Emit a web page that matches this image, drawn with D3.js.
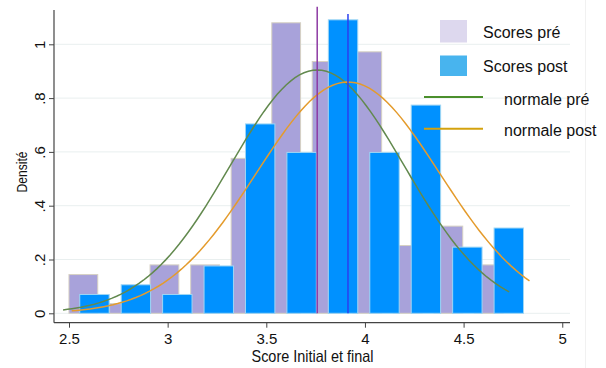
<!DOCTYPE html>
<html>
<head>
<meta charset="utf-8">
<script src="https://cdn.jsdelivr.net/npm/d3@7"></script>
<style>
  body { margin: 0; background: #fff; }
  svg { display: block; font-family: "Liberation Sans", Arial, sans-serif; }
</style>
</head>
<body>
<div id="chart"></div>
<script>
// histogram bins (lower edges) and densities
var preEdges = [2.470, 2.676, 2.881, 3.087, 3.292, 3.498, 3.703, 3.909, 4.114, 4.320, 4.525];
var preWidth = 0.2055;
var preDensity = [0.144, 0.036, 0.180, 0.180, 0.576, 1.080, 0.936, 0.972, 0.252, 0.324, 0.180];

var postEdges = [2.524, 2.734, 2.944, 3.154, 3.364, 3.574, 3.784, 3.994, 4.204, 4.414, 4.624];
var postWidth = 0.210;
var postDensity = [0.070, 0.106, 0.070, 0.176, 0.704, 0.598, 1.091, 0.598, 0.774, 0.246, 0.317];

// fitted normals: mean, sd, range of the data
var preNormal = { mean: 3.758, sd: 0.441, min: 2.470, max: 4.731 };
var postNormal = { mean: 3.914, sd: 0.464, min: 2.514, max: 4.834 };

// vertical mean lines (x, top in density units)
var meanLines = [
  { x: 3.758, top: 1.14, color: '#8d3aa3' },
  { x: 3.914, top: 1.113, color: '#2a3ff0' }
];

var xTicks = [2.5, 3, 3.5, 4, 4.5, 5];
var xTickLabels = ['2.5', '3', '3.5', '4', '4.5', '5'];
var yTicks = [0, 0.2, 0.4, 0.6, 0.8, 1];
var yTickLabels = ['0', '.2', '.4', '.6', '.8', '1'];

var legendItems = ['Scores pré', 'Scores post', 'normale pré', 'normale post'];

var W = 606, H = 368;
var svg = d3.select('#chart').append('svg').attr('width', W).attr('height', H);

var x = d3.scaleLinear().domain([2.5, 5]).range([69, 562.25]);
var y = d3.scaleLinear().domain([0, 1]).range([313.3, 44.3]);

var axisX = 54, axisY = 322.7;
var gapFrac = 0.71;

// faint outer border on the right
svg.append('line').attr('x1', 585.5).attr('x2', 585.5).attr('y1', 0).attr('y2', H)
  .attr('stroke', '#f1f1f1').attr('stroke-width', 1);

// gridlines
svg.append('g').selectAll('line').data(yTicks).enter().append('line')
  .attr('x1', axisX + 1).attr('x2', 570)
  .attr('y1', function(d) { return y(d); }).attr('y2', function(d) { return y(d); })
  .attr('stroke', '#e9efef').attr('stroke-width', 1);

function drawBars(edges, width, dens, fill, stroke) {
  svg.append('g').selectAll('rect').data(dens).enter().append('rect')
    .attr('x', function(d, i) { return x(edges[i] + width * (1 - gapFrac) / 2); })
    .attr('width', function(d, i) { return x(edges[i] + width * gapFrac) - x(edges[i]); })
    .attr('y', function(d) { return y(d); })
    .attr('height', function(d) { return y(0) - y(d); })
    .attr('fill', fill).attr('stroke', stroke).attr('stroke-width', 1);
}
drawBars(preEdges, preWidth, preDensity, '#a8a2da', '#d6d1c3');
drawBars(postEdges, postWidth, postDensity, '#0091ff', '#9fd6f4');

function normalPath(p) {
  var pts = d3.range(0, 101).map(function(k) {
    var v = p.min + (p.max - p.min) * k / 100;
    var z = (v - p.mean) / p.sd;
    return [v, Math.exp(-0.5 * z * z) / (p.sd * Math.sqrt(2 * Math.PI))];
  });
  return d3.line().x(function(d) { return x(d[0]); }).y(function(d) { return y(d[1]); })(pts);
}
svg.append('path').attr('d', normalPath(preNormal)).attr('fill', 'none')
  .attr('stroke', '#62894e').attr('stroke-width', 1.5);
svg.append('path').attr('d', normalPath(postNormal)).attr('fill', 'none')
  .attr('stroke', '#e49b2c').attr('stroke-width', 1.5);

svg.append('g').selectAll('line').data(meanLines).enter().append('line')
  .attr('x1', function(d) { return x(d.x); }).attr('x2', function(d) { return x(d.x); })
  .attr('y1', function(d) { return y(d.top); }).attr('y2', y(0))
  .attr('stroke', function(d) { return d.color; }).attr('stroke-width', 1.5);

// axes
svg.append('line').attr('x1', axisX).attr('x2', 570).attr('y1', axisY).attr('y2', axisY)
  .attr('stroke', '#444').attr('stroke-width', 1.2);
svg.append('line').attr('x1', axisX).attr('x2', axisX).attr('y1', 10).attr('y2', axisY)
  .attr('stroke', '#444').attr('stroke-width', 1.2);

var xAxis = d3.axisBottom(x).tickValues(xTicks).tickSize(5).tickPadding(3)
  .tickFormat(function(d, i) { return xTickLabels[i]; });
var gx = svg.append('g').attr('transform', 'translate(0,' + axisY + ')').call(xAxis);
gx.select('.domain').remove();
gx.selectAll('line').attr('stroke', '#444');
gx.selectAll('text').attr('font-size', 15).attr('fill', '#111').attr('font-family', null)
  .attr('y', 21.6).attr('dy', null);

var yAxis = d3.axisLeft(y).tickValues(yTicks).tickSize(5)
  .tickFormat(function(d, i) { return yTickLabels[i]; });
var gy = svg.append('g').attr('transform', 'translate(' + axisX + ',0)').call(yAxis);
gy.select('.domain').remove();
gy.selectAll('line').attr('stroke', '#444');
gy.selectAll('text').attr('font-size', 15).attr('fill', '#111').attr('font-family', null)
  .attr('transform', 'rotate(-90)').attr('x', 0).attr('y', -9).attr('dy', null)
  .attr('text-anchor', 'middle');

// axis titles
svg.append('text').attr('x', 312.5).attr('y', 362.3).attr('text-anchor', 'middle')
  .attr('font-size', 16.5).attr('fill', '#111')
  .attr('textLength', 122).attr('lengthAdjust', 'spacingAndGlyphs')
  .text('Score Initial et final');
svg.append('text').attr('transform', 'translate(26.5,172) rotate(-90)').attr('text-anchor', 'middle')
  .attr('font-size', 14.5).attr('fill', '#111')
  .attr('textLength', 41).attr('lengthAdjust', 'spacingAndGlyphs')
  .text('Densité');

// legend
var lg = svg.append('g').attr('font-size', 16).attr('fill', '#111');
lg.append('rect').attr('x', 440).attr('y', 20).attr('width', 27).attr('height', 22.5).attr('fill', '#ddd8ee');
lg.append('rect').attr('x', 440).attr('y', 55.5).attr('width', 27).attr('height', 20.5).attr('fill', '#48b4ee');
lg.append('line').attr('x1', 424).attr('x2', 483).attr('y1', 97).attr('y2', 97)
  .attr('stroke', '#4b8f2c').attr('stroke-width', 2);
lg.append('line').attr('x1', 424).attr('x2', 483).attr('y1', 128.7).attr('y2', 128.7)
  .attr('stroke', '#d4a20e').attr('stroke-width', 2);
var legendPos = [[483, 37.5], [483, 72], [504, 104.5], [504, 136]];
lg.selectAll('text').data(legendItems).enter().append('text')
  .attr('x', function(d, i) { return legendPos[i][0]; })
  .attr('y', function(d, i) { return legendPos[i][1]; })
  .text(function(d) { return d; });
</script>
</body>
</html>
